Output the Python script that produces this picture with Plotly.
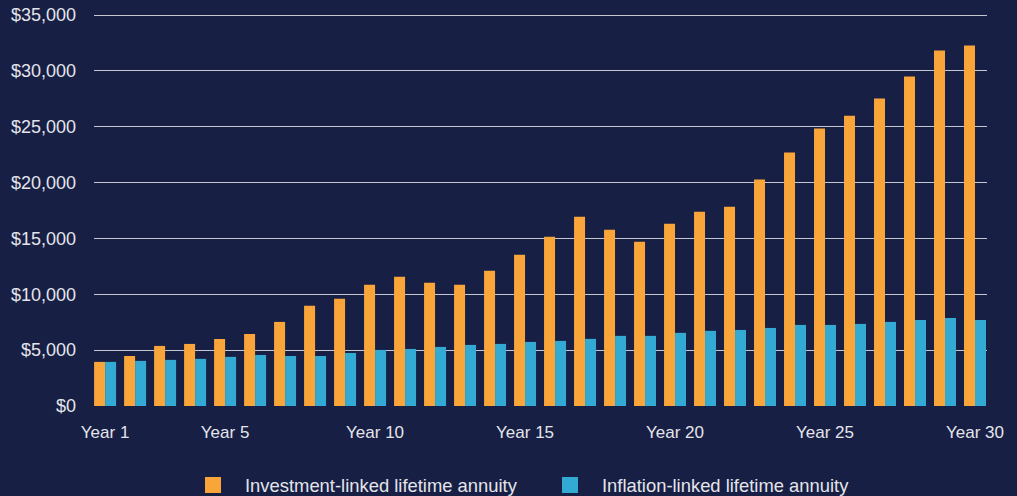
import plotly.graph_objects as go

years = [f"Year {i}" for i in range(1, 31)]
tick_vals = ["Year 1", "Year 5", "Year 10", "Year 15", "Year 20", "Year 25", "Year 30"]

investment_linked = [3950, 4480, 5380, 5560, 6000, 6450, 7530, 8970, 9600, 10850,
                     11570, 11030, 10850, 12100, 13540, 15150, 16950, 15780, 14700, 16320,
                     17400, 17840, 20270, 22690, 24840, 26000, 27530, 29500, 31830, 32280]
inflation_linked = [3950, 4040, 4130, 4220, 4400, 4570, 4480, 4480, 4750, 5020,
                    5110, 5290, 5470, 5560, 5740, 5830, 6010, 6280, 6280, 6550,
                    6730, 6810, 6990, 7260, 7260, 7350, 7530, 7710, 7890, 7710]

y_ticks = [0, 5000, 10000, 15000, 20000, 25000, 30000, 35000]
y_tick_text = ["$0", "$5,000", "$10,000", "$15,000", "$20,000", "$25,000", "$30,000", "$35,000"]

series_names = ["Investment-linked lifetime annuity", "Inflation-linked lifetime annuity"]
colors = ["#F9A53A", "#32AAD4"]
BG = "#171F45"
TEXT = "#E4E5EA"
FONT = "Liberation Sans, Arial, sans-serif"

fig = go.Figure()
for name, vals, col in zip(series_names, [investment_linked, inflation_linked], colors):
    fig.add_trace(go.Bar(x=years, y=vals, name=name, marker=dict(color=col, line=dict(width=0)),
                         showlegend=False, legendgroup=name))
# legend entries with larger square swatches
for name, col in zip(series_names, colors):
    fig.add_trace(go.Scatter(x=[None], y=[None], mode="markers", name=name, legendgroup=name,
                             marker=dict(symbol="square", size=18, color=col, line=dict(width=0)),
                             showlegend=True))

fig.update_layout(
    width=1017, height=496,
    margin=dict(l=94, r=30, t=14, b=90, autoexpand=False),
    paper_bgcolor=BG, plot_bgcolor=BG,
    barmode="group", bargap=0.267, bargroupgap=0,
    font=dict(family=FONT, color=TEXT, size=18),
    showlegend=True,
    legend=dict(orientation="h", xref="container", yref="container",
                x=181 / 1017, xanchor="left", y=(496 - 485) / 496, yanchor="middle",
                itemwidth=54, entrywidth=288, font=dict(size=18.4, color=TEXT, family=FONT),
                bgcolor="rgba(0,0,0,0)", itemsizing="trace", traceorder="normal"),
    xaxis=dict(type="category", categoryorder="array", categoryarray=years,
               range=[-0.37, 29.4], tickmode="array", tickvals=tick_vals, ticktext=tick_vals,
               showgrid=False, zeroline=False, showline=False, ticks="", automargin=False,
               tickfont=dict(size=17, color=TEXT, family=FONT), ticklabelstandoff=14),
    yaxis=dict(range=[0, 35100], tickmode="array", tickvals=y_ticks, ticktext=y_tick_text,
               showgrid=True, gridcolor="#C4C6D0", gridwidth=1, zeroline=False, showline=False,
               automargin=False,
               ticks="", tickfont=dict(size=18, color=TEXT, family=FONT), ticklabelstandoff=17),
)

fig.write_html("out.html")
